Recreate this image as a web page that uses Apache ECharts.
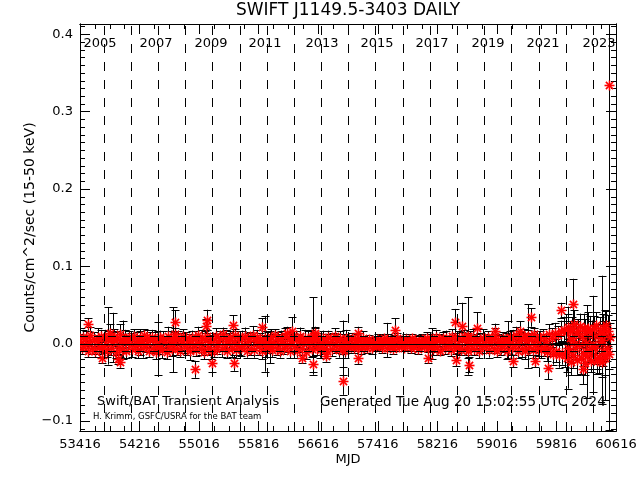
<!DOCTYPE html>
<html><head><meta charset="utf-8">
<script src="https://cdn.jsdelivr.net/npm/echarts@6/dist/echarts.min.js"></script>
<style>html,body{margin:0;padding:0;background:#fff}#c{width:640px;height:480px}</style>
</head><body><div id="c"></div>
<script>
// ---- typical daily points (MJD, rate, 1-sigma error) ----
const mjd = [
 53418,53437,53459,53478,53497,53519,53538,53557,53579,53598,53617,53639,53658,53677,53699,53718,
 53738,53757,53779,53798,53817,53839,53858,53877,53899,53918,53937,53959,53978,53997,54019,54038,54057,54079,
 54098,54117,54139,54158,54177,54199,54218,54237,54259,54278,54297,54319,54338,54357,54379,54398,54417,54439,54458,
 54477,54496,54518,54537,54556,54578,54597,54616,54638,54657,54676,54698,54717,54736,54758,54777,54796,54818,
 54837,54856,54878,54897,54916,54938,54957,54976,54998,55017,55036,55058,55077,55096,55118,55137,55156,55178,
 55197,55216,55238,55257,55276,55298,55317,55336,55358,55377,55396,55418,55437,55456,55478,55497,55516,55538,55557,
 55576,55595,55617,55636,55655,55677,55696,55715,55737,55756,55775,55797,55816,55835,55857,55876,55895,55917,
 55936,55955,55977,55996,56015,56037,56056,56075,56097,56116,56135,56157,56176,56195,56217,56236,56255,56277,
 56296,56315,56337,56356,56375,56397,56416,56435,56457,56476,56495,56517,56536,56555,56577,56596,56615,56637,56656,
 56675,56694,56716,56735,56754,56776,56795,56814,56836,56855,56874,56896,56915,56934,56956,56975,56994,57016,
 57035,57054,57076,57095,57114,57136,57155,57174,57196,57215,57234,57256,57275,57294,57316,57335,57354,57376,
 57395,57414,57436,57455,57474,57496,57515,57534,57556,57575,57594,57616,57635,57654,57676,57695,57714,57736,
 57755,57774,57796,57815,57834,57856,57875,57894,57916,57935,57954,57976,57995,58014,58036,58055,58074,58096,58115,
 58134,58153,58175,58194,58213,58235,58254,58273,58295,58314,58333,58355,58374,58393,58415,58434,58453,58475,
 58494,58513,58535,58554,58573,58595,58614,58633,58655,58674,58693,58715,58734,58753,58775,58794,58813,58835,
 58854,58873,58895,58914,58933,58955,58974,58993,59015,59034,59053,59075,59094,59113,59135,59154,59173,59195,
 59214,59233,59255,59274,59293,59315,59334,59353,59375,59394,59413,59435,59454,59473,59495,59514,59533,59555,59574,
 59594,59613,59635,59654,59673,59695,59714,59733,59755,59774,59793,59815,59834,59853,59875,59894,59913,59935,
 59947,59959,59971,59984,59996,60008,60021,60033,60045,60058,60070,60082,60095,60107,60119,60132,60144,60156,60169,60181,60193,60206,60218,60230,60243,60255,60267,60280,60292,60304,
 60313,60325,60337,60350,60362,60374,60387,60399,60411,60424,60436,60448,60461,60473,60485,60498,60510,60522,60535
];
const flux = [
 0.004,-0.006,0.009,-0.002,0.007,-0.009,0.002,0.011,-0.005,0.006,-0.010,0.003,0.008,-0.004,0.010,-0.007,
 -0.003,0.008,-0.009,0.005,0.014,-0.006,0.002,0.009,-0.011,0.006,-0.004,0.013,-0.008,0.003,0.007,-0.010,0.001,0.009,
 0.006,-0.007,0.010,-0.003,0.004,-0.010,0.008,0.001,-0.006,0.011,-0.002,0.007,-0.009,0.005,0.009,-0.005,0.003,-0.011,0.007,
 -0.004,0.009,-0.008,0.006,0.002,-0.011,0.010,-0.003,0.007,-0.007,0.004,0.012,-0.005,0.008,-0.009,0.003,0.010,-0.002,
 0.007,-0.005,0.003,-0.010,0.009,-0.002,0.006,-0.008,0.011,0.001,-0.006,0.008,-0.011,0.005,0.010,-0.004,0.002,-0.009,
 0.005,-0.009,0.010,-0.004,0.002,0.008,-0.007,0.012,-0.002,0.006,-0.010,0.004,0.009,-0.006,0.001,0.011,-0.008,0.007,-0.003,
 -0.006,0.008,-0.002,0.010,-0.009,0.004,0.007,-0.005,0.011,-0.008,0.003,0.009,-0.003,0.006,-0.010,0.002,0.008,-0.007,
 0.006,-0.004,0.009,-0.008,0.002,0.011,-0.006,0.005,-0.010,0.008,0.001,-0.005,0.010,-0.002,0.007,-0.009,0.004,0.008,
 -0.003,0.007,-0.009,0.004,0.010,-0.006,0.002,0.008,-0.011,0.005,-0.002,0.009,-0.007,0.003,0.011,-0.004,0.006,-0.008,0.001,
 0.008,-0.005,0.003,-0.010,0.009,0.001,-0.007,0.006,0.010,-0.003,0.005,-0.008,0.007,-0.002,0.004,-0.009,0.008,-0.004,
 0.005,-0.004,0.007,-0.006,0.002,0.006,-0.003,0.004,-0.007,0.008,-0.001,0.003,-0.005,0.006,0.001,-0.006,0.004,-0.002,
 -0.004,0.006,-0.002,0.004,-0.006,0.007,0.001,-0.005,0.005,-0.001,0.003,-0.007,0.006,-0.003,0.008,-0.004,0.002,0.005,
 0.003,-0.005,0.006,-0.002,0.004,-0.006,0.007,-0.003,0.002,0.005,-0.007,0.004,-0.001,0.006,-0.004,0.003,0.008,-0.005,0.001,
 0.006,-0.007,0.003,0.009,-0.004,0.005,-0.009,0.002,0.008,-0.005,0.007,-0.002,0.004,-0.008,0.010,-0.003,0.006,-0.006,
 -0.004,0.008,-0.008,0.005,0.010,-0.006,0.003,-0.010,0.007,-0.002,0.009,-0.007,0.004,0.001,-0.009,0.006,-0.003,0.008,
 0.005,-0.003,0.009,-0.008,0.002,0.007,-0.005,0.010,-0.009,0.004,0.001,-0.006,0.008,-0.002,0.006,-0.010,0.003,0.009,
 -0.006,0.008,-0.002,0.011,-0.009,0.004,0.007,-0.005,0.010,-0.010,0.003,0.009,-0.004,0.006,-0.008,0.012,-0.001,0.005,-0.007,
 0.007,-0.008,0.010,-0.004,0.003,-0.011,0.012,-0.006,0.008,-0.013,0.014,-0.009,0.011,-0.015,0.016,-0.012,0.018,-0.014,
 0.015,-0.018,0.022,-0.010,0.008,-0.024,0.019,0.003,-0.015,0.025,-0.006,0.012,-0.021,0.017,-0.002,0.023,-0.019,0.009,-0.012,0.020,-0.025,0.014,0.001,-0.016,0.021,-0.008,0.018,-0.022,0.011,-0.004,
 -0.014,0.020,-0.006,0.024,-0.020,0.010,-0.017,0.016,0.002,-0.023,0.021,-0.010,0.013,-0.019,0.024,-0.005,0.017,-0.013,0.009
];
const err = [
 0.008,0.007,0.009,0.006,0.010,0.008,0.007,0.011,0.008,0.009,0.007,0.008,0.012,0.009,0.008,0.010,
 0.009,0.010,0.008,0.012,0.011,0.009,0.013,0.010,0.008,0.011,0.009,0.012,0.010,0.008,0.011,0.009,0.010,0.008,
 0.008,0.010,0.009,0.007,0.011,0.009,0.008,0.010,0.012,0.008,0.009,0.011,0.008,0.010,0.009,0.007,0.012,0.009,0.010,
 0.009,0.008,0.011,0.010,0.008,0.009,0.012,0.008,0.010,0.009,0.011,0.008,0.010,0.009,0.008,0.011,0.009,0.010,
 0.008,0.010,0.009,0.011,0.008,0.009,0.010,0.008,0.011,0.009,0.008,0.010,0.009,0.012,0.008,0.010,0.009,0.011,
 0.009,0.008,0.010,0.009,0.011,0.008,0.010,0.009,0.008,0.012,0.009,0.010,0.008,0.011,0.009,0.008,0.010,0.009,0.011,
 0.010,0.009,0.008,0.011,0.009,0.010,0.008,0.009,0.012,0.010,0.008,0.009,0.011,0.008,0.010,0.009,0.008,0.010,
 0.009,0.008,0.010,0.009,0.011,0.008,0.009,0.010,0.008,0.009,0.011,0.008,0.010,0.009,0.008,0.010,0.009,0.008,
 0.008,0.010,0.009,0.008,0.011,0.009,0.008,0.010,0.009,0.012,0.008,0.009,0.010,0.008,0.009,0.011,0.008,0.010,0.009,
 0.009,0.008,0.010,0.009,0.008,0.011,0.009,0.008,0.010,0.009,0.008,0.010,0.009,0.011,0.008,0.009,0.010,0.008,
 0.006,0.005,0.007,0.006,0.005,0.006,0.007,0.005,0.006,0.008,0.005,0.006,0.007,0.005,0.006,0.007,0.005,0.006,
 0.005,0.006,0.005,0.007,0.006,0.005,0.006,0.005,0.007,0.006,0.005,0.006,0.005,0.007,0.006,0.005,0.006,0.005,
 0.006,0.005,0.007,0.006,0.005,0.006,0.005,0.007,0.006,0.005,0.006,0.007,0.005,0.006,0.005,0.006,0.007,0.005,0.006,
 0.007,0.008,0.006,0.009,0.007,0.008,0.006,0.009,0.007,0.008,0.010,0.007,0.006,0.008,0.009,0.007,0.008,0.006,
 0.008,0.009,0.007,0.010,0.008,0.009,0.011,0.008,0.009,0.007,0.010,0.008,0.009,0.007,0.010,0.008,0.009,0.011,
 0.008,0.009,0.007,0.010,0.008,0.009,0.007,0.011,0.008,0.009,0.010,0.008,0.007,0.009,0.008,0.010,0.009,0.008,
 0.009,0.010,0.008,0.011,0.009,0.010,0.008,0.012,0.009,0.010,0.011,0.009,0.010,0.008,0.011,0.009,0.010,0.012,0.009,
 0.010,0.011,0.009,0.012,0.010,0.011,0.013,0.010,0.012,0.014,0.013,0.015,0.012,0.016,0.014,0.015,0.017,0.016,
 0.015,0.018,0.016,0.014,0.019,0.017,0.015,0.020,0.016,0.018,0.014,0.017,0.019,0.015,0.018,0.016,0.020,0.014,0.017,0.019,0.016,0.018,0.015,0.017,0.020,0.016,0.018,0.015,0.019,0.017,
 0.018,0.016,0.020,0.017,0.019,0.015,0.021,0.018,0.016,0.020,0.017,0.019,0.016,0.022,0.018,0.017,0.020,0.019,0.018
];
// ---- days standing out from the band ----
const spikeMjd = [53523,53712,53792,53859,53926,53953,53994,54222,54464,54665,54692,54961,55108,55122,55189,55471,55480,55861,55901,55968,56197,56264,56398,56546,56550,56573,56720,56945,56949,57151,57155,57540,57648,58091,58144,58453,58467,58547,58628,58635,58749,58991,59165,59232,59326,59434,59474,59528,59703,59877,59971,60000,60039,60173,60230,60307,60361,60428,60470,60528];
const spikeFlux = [0.025,-0.018,0.010,0.008,-0.020,-0.024,0.005,0.002,-0.006,0.005,0.028,-0.033,0.023,0.031,-0.025,0.024,-0.025,0.022,0.000,-0.004,0.014,0.017,-0.018,-0.026,0.010,0.014,-0.016,-0.005,-0.048,0.014,-0.018,0.005,0.018,-0.018,0.000,0.028,-0.021,0.023,0.010,-0.027,0.021,0.017,0.005,-0.022,0.017,0.010,0.034,-0.022,-0.031,0.043,-0.005,0.017,0.052,-0.032,-0.010,0.000,-0.022,0.005,-0.015,0.335];
const spikeErr = [0.008,0.007,0.037,0.032,0.006,0.007,0.025,0.017,0.034,0.042,0.015,0.011,0.009,0.013,0.012,0.013,0.010,0.011,0.036,0.021,0.008,0.017,0.007,0.010,0.050,0.008,0.007,0.035,0.018,0.008,0.008,0.022,0.015,0.007,0.020,0.017,0.008,0.030,0.050,0.010,0.020,0.009,0.024,0.008,0.012,0.041,0.012,0.008,0.015,0.010,0.053,0.012,0.032,0.020,0.060,0.062,0.010,0.083,0.058,0.447];

const xTicks = [53416,54216,55016,55816,56616,57416,58216,59016,59816,60616];
const yTicks = [-0.1,0.0,0.1,0.2,0.3,0.4];
const yearStarts = [53736,54101,54466,54832,55197,55562,55927,56293,56658,57023,57388,57754,58119,58484,58849,59215,59580,59945,60310];
const yearLabels = ['2005','2007','2009','2011','2013','2015','2017','2019','2021','2023'];
const yearLabelMjd = [53685,54437,55176,55901,56667,57406,58144,58897,59636,60388];
const refLines = [0.0055,-0.0062];

const X_MIN = 53416, X_MAX = 60616, Y_MIN = -0.1128, Y_MAX = 0.4134;
const xMinor = []; for (let v = X_MIN; v <= X_MAX; v += 200) xMinor.push(v);
const yMinor = []; for (let k = -11; k <= 41; k++) yMinor.push(+(k * 0.01).toFixed(2));

const points = [];
for (let i = 0; i < Math.min(mjd.length, flux.length, err.length); i++) points.push([mjd[i], flux[i], err[i]]);
for (let i = 0; i < spikeMjd.length; i++) points.push([spikeMjd[i], spikeFlux[i], spikeErr[i]]);

const FONT = 'DejaVu Sans';
function renderBar(params, api) {
  const x = api.value(0), y = api.value(1), e = api.value(2);
  const cs = params.coordSys;
  const p = api.coord([x, y]);
  const pt = api.coord([x, y + e]);
  const pb = api.coord([x, y - e]);
  const px = Math.round(p[0]) + 0.5;
  const top = Math.max(pt[1], cs.y), bot = Math.min(pb[1], cs.y + cs.height);
  const blk = { stroke: '#000', lineWidth: 1 };
  const kids = [{ type: 'line', shape: { x1: px, y1: top, x2: px, y2: bot }, style: blk }];
  if (pt[1] >= cs.y) { const yy = Math.round(pt[1]) + 0.5; kids.push({ type: 'line', shape: { x1: px - 4, y1: yy, x2: px + 4, y2: yy }, style: blk }); }
  if (pb[1] <= cs.y + cs.height) { const yy = Math.round(pb[1]) + 0.5; kids.push({ type: 'line', shape: { x1: px - 4, y1: yy, x2: px + 4, y2: yy }, style: blk }); }
  return { type: 'group', children: kids };
}
function renderStar(params, api) {
  const p = api.coord([api.value(0), api.value(1)]);
  const px = Math.round(p[0]) + 0.5, py = Math.round(p[1]) + 0.5;
  const red = { stroke: '#ff0000', lineWidth: 1.6 };
  const r = 5, d = 3.6;
  return { type: 'group', children: [
    { type: 'line', shape: { x1: px - r, y1: py, x2: px + r, y2: py }, style: red },
    { type: 'line', shape: { x1: px, y1: py - r, x2: px, y2: py + r }, style: red },
    { type: 'line', shape: { x1: px - d, y1: py - d, x2: px + d, y2: py + d }, style: red },
    { type: 'line', shape: { x1: px - d, y1: py + d, x2: px + d, y2: py - d }, style: red }
  ] };
}

function xAx(pos, ticks, len, labels, extra) {
  return Object.assign({
    type: 'value', position: pos, min: X_MIN, max: X_MAX, gridIndex: 0,
    axisLine: { show: true, onZero: false, lineStyle: { color: '#000', width: 1 } },
    axisTick: { show: true, inside: true, length: len, customValues: ticks, lineStyle: { color: '#000', width: 1 } },
    axisLabel: labels ? { show: true, customValues: xTicks, color: '#000', fontFamily: FONT, fontSize: 13, margin: 7, formatter: v => String(Math.round(v)) } : { show: false },
    splitLine: { show: false }
  }, extra || {});
}
function yAx(pos, ticks, len, labels, extra) {
  return Object.assign({
    type: 'value', position: pos, min: Y_MIN, max: Y_MAX, gridIndex: 0,
    axisLine: { show: true, onZero: false, lineStyle: { color: '#000', width: 1 } },
    axisTick: { show: true, inside: true, length: len, customValues: ticks, lineStyle: { color: '#000', width: 1 } },
    axisLabel: labels ? { show: true, customValues: yTicks, color: '#000', fontFamily: FONT, fontSize: 13, margin: 7, formatter: v => (v < 0 ? '\u2212' : '') + Math.abs(v).toFixed(1) } : { show: false },
    splitLine: { show: false }
  }, extra || {});
}

const chart = echarts.init(document.getElementById('c'), null, { renderer: 'canvas' });
chart.setOption({
  animation: false,
  backgroundColor: '#fff',
  title: { text: 'SWIFT J1149.5-3403 DAILY', left: 348, textAlign: 'center', top: 2, padding: 0,
    textStyle: { fontFamily: FONT, fontSize: 17, fontWeight: 'normal', color: '#000' } },
  grid: { left: 80, right: 24, top: 24, bottom: 49, containLabel: false },
  xAxis: [
    xAx('bottom', xTicks, 10, true, { name: 'MJD', nameLocation: 'middle', nameGap: 22, nameMoveOverlap: false, nameTextStyle: { fontFamily: FONT, fontSize: 13, color: '#000' } }),
    xAx('top', xTicks, 10, false),
    xAx('bottom', xMinor, 5, false),
    xAx('top', xMinor, 5, false)
  ],
  yAxis: [
    yAx('left', yTicks, 10, true, { name: 'Counts/cm^2/sec (15-50 keV)', nameLocation: 'middle', nameGap: 43, nameMoveOverlap: false, nameTextStyle: { fontFamily: FONT, fontSize: 14, color: '#000' } }),
    yAx('right', yTicks, 10, false),
    yAx('left', yMinor, 5, false),
    yAx('right', yMinor, 5, false)
  ],
  series: [
    { type: 'custom', name: 'errors', xAxisIndex: 0, yAxisIndex: 0, clip: true, z: 2,
      renderItem: renderBar, data: points, silent: true },
    { type: 'custom', name: 'rate', xAxisIndex: 0, yAxisIndex: 0, clip: true, z: 3,
      renderItem: renderStar, data: points, silent: true },
    { type: 'line', name: 'guides', xAxisIndex: 0, yAxisIndex: 0, data: [], z: 5, silent: true,
      markLine: { silent: true, symbol: ['none', 'none'], label: { show: false }, animation: false,
        data: yearStarts.map(v => ({ xAxis: v, lineStyle: { color: '#000', width: 1, type: [9, 9] } }))
          .concat([{ yAxis: 0, lineStyle: { color: '#000', width: 1, type: 'solid' } }])
          .concat(refLines.map(v => ({ yAxis: v, lineStyle: { color: '#000', width: 1, type: [8, 6] } }))) } },
    { type: 'custom', name: 'years', xAxisIndex: 0, yAxisIndex: 0, z: 6, silent: true,
      data: yearLabelMjd.map(m => [m, 0.388]),
      renderItem: (params, api) => {
        const c = api.coord([api.value(0), api.value(1)]);
        return { type: 'text', x: c[0], y: c[1], style: { text: yearLabels[params.dataIndex], fill: '#000',
          font: '13px "DejaVu Sans"', align: 'center', verticalAlign: 'middle' } };
      } }
  ],
  graphic: [
    { type: 'text', left: 97, top: 395, style: { text: 'Swift/BAT Transient Analysis', fill: '#000', font: '13px "DejaVu Sans"' } },
    { type: 'text', left: 93, top: 412, style: { text: 'H. Krimm, GSFC/USRA for the BAT team', fill: '#000', font: '8.5px "DejaVu Sans"' } },
    { type: 'text', left: 320, top: 395, style: { text: 'Generated Tue Aug 20 15:02:55 UTC 2024', fill: '#000', font: '13.5px "DejaVu Sans"' } }
  ]
});
</script></body></html>
